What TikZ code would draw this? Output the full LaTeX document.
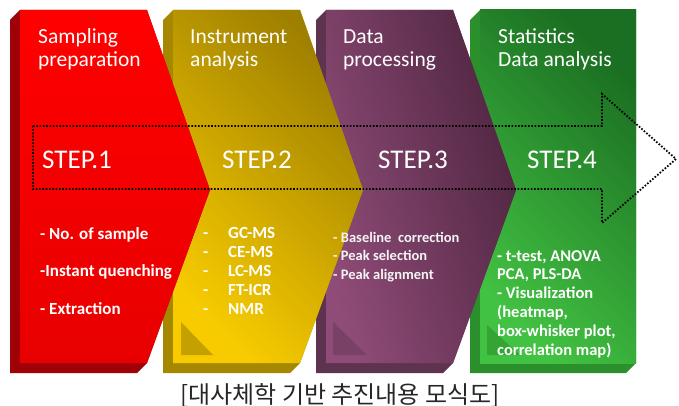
\documentclass[tikz,border=0pt]{standalone}
\usepackage{fontspec}
\setmainfont{Carlito}
\newfontfamily\krfont{Noto Sans CJK KR}
\usepackage{tikz}
\usetikzlibrary{positioning}
\definecolor{redtop}{HTML}{FF0000}
\definecolor{redbot}{HTML}{E80000}
\definecolor{redside}{HTML}{A00008}
\definecolor{yellight}{HTML}{F7CB00}
\definecolor{yeldark}{HTML}{9E7F00}
\definecolor{yelside}{HTML}{A68800}
\definecolor{yeltri}{HTML}{C4A000}
\definecolor{purlight}{HTML}{904C78}
\definecolor{purdark}{HTML}{4E2540}
\definecolor{purside}{HTML}{5E3350}
\definecolor{purtri}{HTML}{784266}
\definecolor{grnlight}{HTML}{42C242}
\definecolor{grndark}{HTML}{1B6F22}
\definecolor{grnside}{HTML}{2B8F2B}
\definecolor{grntri}{HTML}{34A434}
\tikzset{
  headtxt/.style ={anchor=base west, inner sep=0pt, text=white, align=left,
                   font=\fontsize{21.5}{23}\selectfont},
  steptxt/.style ={anchor=base west, inner sep=0pt, text=white,
                   font=\fontsize{27}{30}\selectfont},
  itemtxt/.style ={anchor=base west, inner sep=0pt, text=white, align=left,
                   font=\fontsize{17}{19}\selectfont\bfseries},
  smalltxt/.style={anchor=base west, inner sep=0pt, text=white!92!gray, align=left,
                   font=\fontsize{14.5}{18.5}\selectfont\bfseries},
  captxt/.style  ={anchor=base, inner sep=0pt, text=black!85,
                   font=\fontsize{24}{26}\krfont},
  flowline/.style={draw=black, line width=1.8pt, dash pattern=on 1.6pt off 1.7pt},
}
\begin{document}
\begin{tikzpicture}[x=1pt, y=-1pt]
  \useasboundingbox (0,0) rectangle (679,406);
  % green panel
  \fill[grnside] (470,20) -- (480,10) -- (636,10) -- (636,363) -- (626,373) -- (470,373) -- cycle;
  \shade[top color=grndark, bottom color=grnlight, shading angle=-45]
    (480,10) rectangle (636,363);
  \fill[grntri] (487,325) -- (487,355) -- (520,355) -- cycle;
  % purple panel
  \fill[purside] (316,20) -- (326,10) -- (453,10) -- (516,190) -- (453,363) -- (443,373) -- (316,373) -- cycle;
  \shade[top color=purdark, bottom color=purlight, shading angle=-75]
    (326,10) -- (453,10) -- (516,190) -- (453,363) -- (326,363) -- cycle;
  \fill[purtri] (333,322) -- (333,355) -- (367,355) -- cycle;
  % yellow panel
  \fill[yelside] (163,20) -- (173,10) -- (300,10) -- (363,190) -- (300,363) -- (290,373) -- (163,373) -- cycle;
  \shade[top color=yeldark, bottom color=yellight, shading angle=-45]
    (173,10) -- (300,10) -- (363,190) -- (300,363) -- (173,363) -- cycle;
  \fill[yeltri] (181,322) -- (181,355) -- (213,355) -- cycle;
  % red panel
  \fill[redside] (10,20) -- (20,10) -- (147,10) -- (210,190) -- (147,363) -- (137,373) -- (10,373) -- cycle;
  \shade[top color=redtop, bottom color=redbot]
    (20,10) -- (147,10) -- (210,190) -- (147,363) -- (20,363) -- cycle;

  % dotted arrow
  \draw[flowline] (33,126) -- (602,126) -- (602,94) -- (676,159) -- (602,223)
    -- (602,189) -- (33,189) -- cycle;

  % base of a multi-line node = last line
  \node[headtxt] (headone)   at (38,67)  {Sampling\\preparation};
  \node[headtxt] (headtwo)   at (190,67) {Instrument\\analysis};
  \node[headtxt] (headthree) at (343,67) {Data\\processing};
  \node[headtxt] (headfour)  at (498,67) {Statistics\\Data analysis};

  \node[steptxt] (stepone)   at (42,168)  {STEP.1};
  \node[steptxt] (steptwo)   at (222,168) {STEP.2};
  \node[steptxt] (stepthree) at (378,168) {STEP.3};
  \node[steptxt] (stepfour)  at (527,168) {STEP.4};

  \node[itemtxt, font=\fontsize{17}{37.5}\selectfont\bfseries] (redlist) at (40,314)
    {- No. of sample\\-Instant quenching\\- Extraction};
  \node[itemtxt] (yeldash) at (203,314) {-\\-\\-\\-\\-};
  \node[itemtxt] (yellist) at (228,314) {GC-MS\\CE-MS\\LC-MS\\FT-ICR\\NMR};
  \node[smalltxt] (purlist) at (333,279)
    {- Baseline\ \ correction\\- Peak selection\\- Peak alignment};
  \node[itemtxt, font=\fontsize{16.5}{18.8}\selectfont\bfseries] (grnlist) at (497,355)
    {- t-test, ANOVA\\PCA, PLS-DA\\- Visualization\\(heatmap,\\box-whisker plot,\\correlation map)};

  \node[captxt] (caption) at (340,403) {[대사체학 기반 추진내용 모식도]};
\end{tikzpicture}
\end{document}
